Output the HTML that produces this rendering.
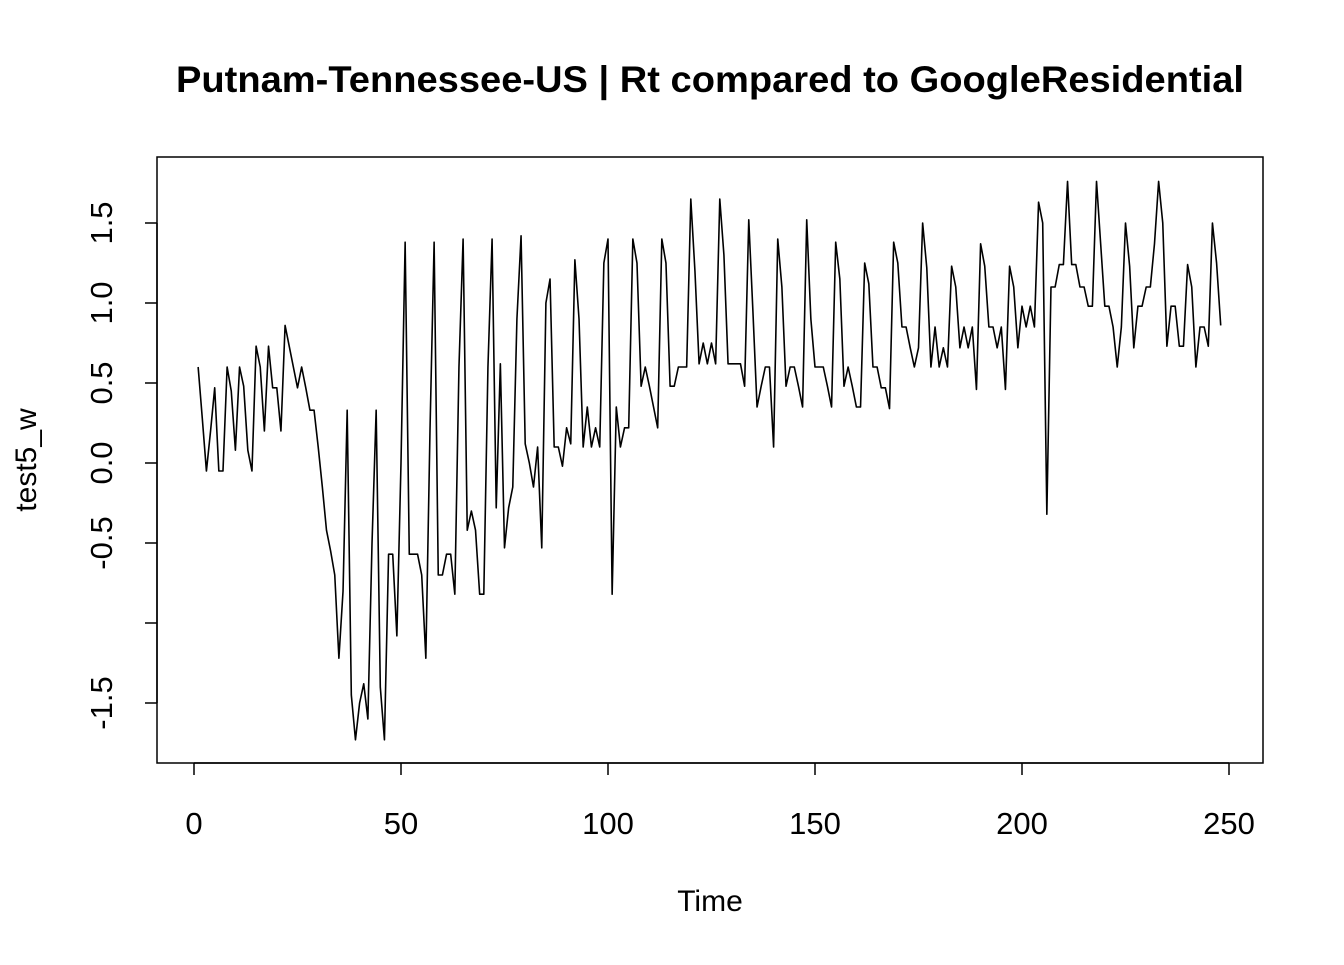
<!DOCTYPE html>
<html><head><meta charset="utf-8"><style>
html,body{margin:0;padding:0;background:#fff;}
text{font-family:"Liberation Sans",Arial,sans-serif;}
</style></head><body>
<svg id="chart" width="1344" height="960" xmlns="http://www.w3.org/2000/svg">
<text x="710" y="92" text-anchor="middle" font-size="37" font-weight="bold" textLength="1068" lengthAdjust="spacingAndGlyphs">Putnam-Tennessee-US | Rt compared to GoogleResidential</text>
<rect x="157" y="157" width="1106" height="606" fill="none" stroke="#000" stroke-width="1.5"/>
<g id="xaxis"></g>
<g id="yaxis"></g>
<text x="710" y="911" text-anchor="middle" font-size="30">Time</text>
<text transform="translate(36,460) rotate(-90)" text-anchor="middle" font-size="30">test5_w</text>
<path id="series" fill="none" stroke="#000" stroke-width="1.6" stroke-linejoin="round"/>
</svg>
<script>
const xTicks=[0,50,100,150,200,250];
const yTicks=[-1.5,-1.0,-0.5,0.0,0.5,1.0,1.5];
const yTickLabels=["-1.5","","-0.5","0.0","0.5","1.0","1.5"];
const values=[0.6,0.28,-0.05,0.2,0.47,-0.05,-0.05,0.6,0.45,0.08,0.6,0.48,0.08,-0.05,0.73,0.6,0.2,0.73,0.47,0.47,
0.2,0.86,0.73,0.6,0.47,0.6,0.47,0.33,0.33,0.1,-0.15,-0.42,-0.55,-0.7,-1.22,-0.8,0.33,-1.45,-1.73,-1.5,
-1.38,-1.6,-0.5,0.33,-1.4,-1.73,-0.57,-0.57,-1.08,0.0,1.38,-0.57,-0.57,-0.57,-0.7,-1.22,0.2,1.38,-0.7,-0.7,
-0.57,-0.57,-0.82,0.6,1.4,-0.42,-0.3,-0.42,-0.82,-0.82,0.6,1.4,-0.28,0.62,-0.53,-0.28,-0.15,0.9,1.42,0.12,
0.0,-0.15,0.1,-0.53,1.0,1.15,0.1,0.1,-0.02,0.22,0.12,1.27,0.9,0.1,0.35,0.1,0.22,0.1,1.25,1.4,
-0.82,0.35,0.1,0.22,0.22,1.4,1.25,0.48,0.6,0.48,0.35,0.22,1.4,1.25,0.48,0.48,0.6,0.6,0.6,1.65,
1.2,0.62,0.75,0.62,0.75,0.62,1.65,1.3,0.62,0.62,0.62,0.62,0.48,1.52,0.95,0.35,0.48,0.6,0.6,0.1,
1.4,1.1,0.48,0.6,0.6,0.48,0.35,1.52,0.9,0.6,0.6,0.6,0.48,0.35,1.38,1.15,0.48,0.6,0.48,0.35,
0.35,1.25,1.12,0.6,0.6,0.47,0.47,0.34,1.38,1.25,0.85,0.85,0.72,0.6,0.72,1.5,1.22,0.6,0.85,0.6,
0.72,0.6,1.23,1.1,0.72,0.85,0.72,0.85,0.46,1.37,1.23,0.85,0.85,0.72,0.85,0.46,1.23,1.1,0.72,0.98,
0.85,0.98,0.85,1.63,1.5,-0.32,1.1,1.1,1.24,1.24,1.76,1.24,1.24,1.1,1.1,0.98,0.98,1.76,1.37,0.98,
0.98,0.85,0.6,0.85,1.5,1.23,0.72,0.98,0.98,1.1,1.1,1.37,1.76,1.5,0.73,0.98,0.98,0.73,0.73,1.24,
1.1,0.6,0.85,0.85,0.73,1.5,1.25,0.86];
const NS="http://www.w3.org/2000/svg";
function xs(t){return 194+t*(1229-194)/250;}
function ys(v){return 463-v*160;}
const xa=document.getElementById('xaxis'), ya=document.getElementById('yaxis');
function mk(tag,attrs){const e=document.createElementNS(NS,tag);for(const k in attrs)e.setAttribute(k,attrs[k]);return e;}
const xl=mk('line',{x1:xs(xTicks[0]),x2:xs(xTicks[xTicks.length-1]),y1:763,y2:763,stroke:'#000','stroke-width':1.5});


xa.appendChild(xl);
xTicks.forEach(t=>{
  const l=mk('line',{x1:xs(t),x2:xs(t),y1:763,y2:775,stroke:'#000','stroke-width':1.5});
  
  
  xa.appendChild(l);
  const tx=mk('text',{x:xs(t),y:834,'text-anchor':'middle','font-size':31});
  
  
  tx.textContent=String(t);xa.appendChild(tx);
});
const yl=mk('line',{x1:157,x2:157,y1:ys(yTicks[0]),y2:ys(yTicks[yTicks.length-1]),stroke:'#000','stroke-width':1.5});


ya.appendChild(yl);
yTicks.forEach((v,i)=>{
  const l=mk('line',{x1:145,x2:157,y1:ys(v),y2:ys(v),stroke:'#000','stroke-width':1.5});
  
  
  ya.appendChild(l);
  if(yTickLabels[i]){
    const tx=mk('text',{transform:`translate(112,${ys(v)}) rotate(-90)`,'text-anchor':'middle','font-size':31});
    
    
    tx.textContent=yTickLabels[i];ya.appendChild(tx);
  }
});
document.getElementById('series').setAttribute('d',values.map((v,i)=>(i?'L':'M')+xs(i+1).toFixed(2)+','+ys(v).toFixed(2)).join(''));
</script>
</body></html>
